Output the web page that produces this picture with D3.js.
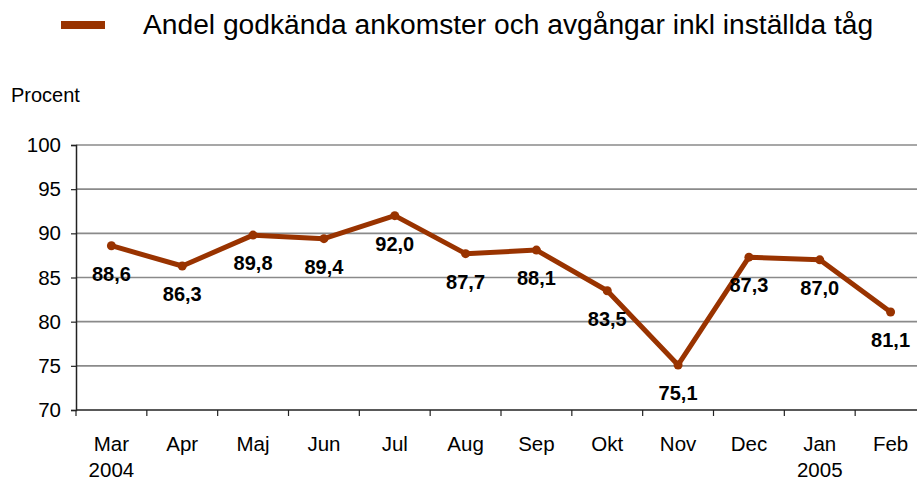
<!DOCTYPE html>
<html>
<head>
<meta charset="utf-8">
<script src="https://cdn.jsdelivr.net/npm/d3@7"></script>
<style>
  body { margin: 0; background: #fff; }
  text { font-family: "Liberation Sans", Arial, sans-serif; fill: #000; }
</style>
</head>
<body>
<div id="chart"></div>
<script>
// data
var months = ["Mar", "Apr", "Maj", "Jun", "Jul", "Aug", "Sep", "Okt", "Nov", "Dec", "Jan", "Feb"]
var years = ["2004", "", "", "", "", "", "", "", "", "", "2005", ""]
var values = [88.6, 86.3, 89.8, 89.4, 92.0, 87.7, 88.1, 83.5, 75.1, 87.3, 87.0, 81.1]
var yTicks = [70, 75, 80, 85, 90, 95, 100]
var seriesName = "Andel godkända ankomster och avgångar inkl inställda tåg"

var W = 917, H = 481
var color = "#993300"
var margin = { left: 76, top: 145, right: -9, bottom: 71 }
var width = W - margin.left - margin.right,
    height = H - margin.top - margin.bottom

var svg = d3.select("#chart")
    .append("svg")
    .attr("width", W)
    .attr("height", H)

// legend
svg.append("line")
    .attr("x1", 61).attr("x2", 105)
    .attr("y1", 25).attr("y2", 25)
    .attr("stroke", color)
    .attr("stroke-width", 8)
svg.append("text")
    .attr("x", 143)
    .attr("y", 34)
    .style("font-size", "28.2px")
    .text(seriesName)

svg.append("text")
    .attr("x", 11)
    .attr("y", 102)
    .style("font-size", "20px")
    .text("Procent")

var g = svg.append("g")
    .attr("transform", "translate(" + margin.left + "," + margin.top + ")")

var x = d3.scaleBand()
    .domain(months)
    .range([0, width])

var y = d3.scaleLinear()
    .domain([70, 100])
    .range([height, 0])

// gridlines
g.selectAll(".grid")
    .data(yTicks.slice(1))
    .enter()
    .append("line")
    .attr("x1", 0)
    .attr("x2", width)
    .attr("y1", function (d) { return y(d) })
    .attr("y2", function (d) { return y(d) })
    .attr("stroke", "#8a8a8a")
    .attr("stroke-width", 1.6)

// Y axis
var yAxis = g.append("g")
    .call(d3.axisLeft(y).tickValues(yTicks).tickSize(5).tickPadding(10))
yAxis.select(".domain").attr("stroke", "#222").attr("stroke-width", 1.5)
yAxis.selectAll(".tick line").attr("stroke", "#222").attr("stroke-width", 1.2)
yAxis.selectAll("text")
    .style("font-size", "20.5px")
    .style("font-family", "Liberation Sans, Arial, sans-serif")

// X axis - ticks at band edges
var xAxis = g.append("g")
    .attr("transform", "translate(0," + height + ")")
xAxis.append("line")
    .attr("x1", 0).attr("x2", width)
    .attr("stroke", "#222").attr("stroke-width", 1.5)
xAxis.selectAll(".xtick")
    .data(months)
    .enter()
    .append("line")
    .attr("x1", function (d) { return x(d) })
    .attr("x2", function (d) { return x(d) })
    .attr("y1", 0).attr("y2", 6)
    .attr("stroke", "#222").attr("stroke-width", 1.2)
xAxis.selectAll(".mlabel")
    .data(months)
    .enter()
    .append("text")
    .attr("x", function (d) { return x(d) + x.bandwidth() / 2 })
    .attr("y", 41)
    .attr("text-anchor", "middle")
    .style("font-size", "20.5px")
    .text(function (d) { return d })
xAxis.selectAll(".ylabel")
    .data(years)
    .enter()
    .append("text")
    .attr("x", function (d, i) { return x(months[i]) + x.bandwidth() / 2 })
    .attr("y", 67)
    .attr("text-anchor", "middle")
    .style("font-size", "20.5px")
    .text(function (d) { return d })

// line
var line = d3.line()
    .x(function (d, i) { return x(months[i]) + x.bandwidth() / 2 })
    .y(function (d) { return y(d) })

g.append("path")
    .datum(values)
    .attr("fill", "none")
    .attr("stroke", color)
    .attr("stroke-width", 5)
    .attr("stroke-linejoin", "round")
    .attr("d", line)

g.selectAll(".dot")
    .data(values)
    .enter()
    .append("circle")
    .attr("cx", function (d, i) { return x(months[i]) + x.bandwidth() / 2 })
    .attr("cy", function (d) { return y(d) })
    .attr("r", 4.5)
    .attr("fill", color)

// value labels
g.selectAll(".val")
    .data(values)
    .enter()
    .append("text")
    .attr("x", function (d, i) { return x(months[i]) + x.bandwidth() / 2 })
    .attr("y", function (d) { return y(d) + 35 })
    .attr("text-anchor", "middle")
    .style("font-size", "20px")
    .style("font-weight", "bold")
    .text(function (d) { return d.toFixed(1).replace(".", ",") })
</script>
</body>
</html>
